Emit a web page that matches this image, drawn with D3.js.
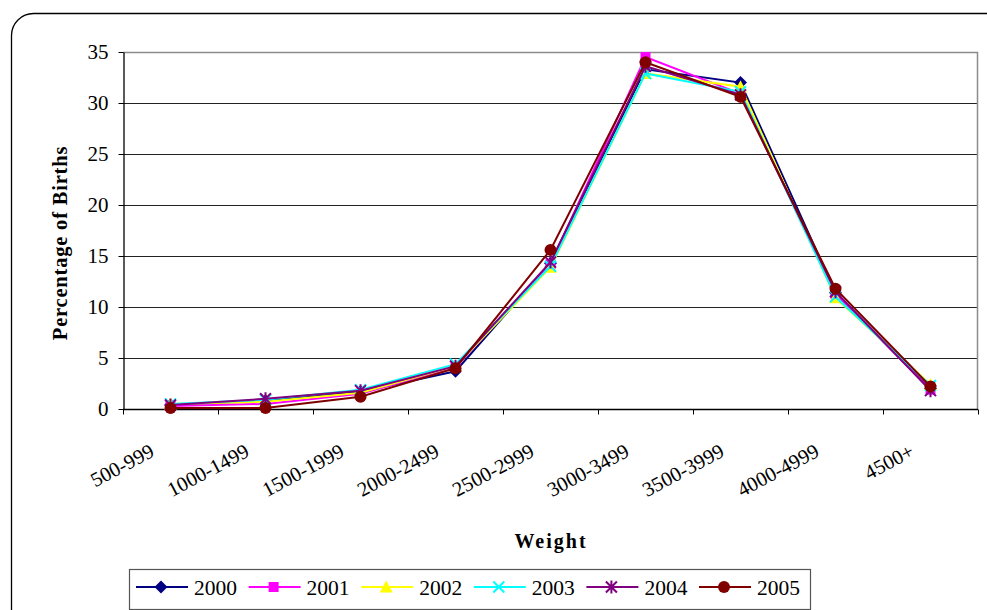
<!DOCTYPE html>
<html>
<head>
<meta charset="utf-8">
<script src="https://cdn.jsdelivr.net/npm/d3@7"></script>
<style>
  html, body { margin: 0; padding: 0; background: #fff; }
  svg { display: block; }
  svg text { font-family: "Liberation Serif", "Times New Roman", serif; }
</style>
</head>
<body>
<svg id="chart" width="987" height="610"></svg>
<script>
// Birth weight distribution by year (percentage of births per weight band)
const categories = ["500-999", "1000-1499", "1500-1999", "2000-2499", "2500-2999",
                    "3000-3499", "3500-3999", "4000-4999", "4500+"];
const years = ["2000", "2001", "2002", "2003", "2004", "2005"];
const values2000 = [0.4, 0.8, 1.7, 3.7, 14.3, 33.3, 32.0, 11.4, 2.0];
const values2001 = [0.3, 0.5, 1.5, 4.1, 14.2, 34.5, 30.9, 11.3, 1.9];
const values2002 = [0.5, 0.7, 1.6, 4.2, 13.9, 32.9, 31.6, 10.9, 2.4];
const values2003 = [0.5, 0.9, 1.9, 4.4, 14.0, 32.9, 31.1, 11.0, 2.3];
const values2004 = [0.4, 1.0, 1.8, 4.2, 14.4, 33.6, 30.8, 11.5, 1.8];
const values2005 = [0.1, 0.1, 1.2, 4.0, 15.6, 34.0, 30.6, 11.8, 2.2];
const yTicks = [0, 5, 10, 15, 20, 25, 30, 35];

const seriesValues = [values2000, values2001, values2002, values2003, values2004, values2005];
const colors = ["#000080", "#FF00FF", "#FFFF00", "#00FFFF", "#800080", "#800000"];
const shapes = ["diamond", "square", "triangle", "cross", "asterisk", "circle"];
const FONT = "Liberation Serif, Times New Roman, serif";

const svg = d3.select("#chart");

// Outer rounded frame
svg.append("rect")
  .attr("x", 11.5).attr("y", 13.5)
  .attr("width", 1000).attr("height", 620)
  .attr("rx", 22).attr("ry", 22)
  .attr("fill", "none").attr("stroke", "#000").attr("stroke-width", 1.3);

const plot = { left: 123, right: 978, top: 52, bottom: 409 };

const x = d3.scaleBand().domain(categories).range([plot.left, plot.right]).padding(0);
const y = d3.scaleLinear().domain([0, 35]).range([plot.bottom, plot.top]);
const cx = c => x(c) + x.bandwidth() / 2;

// Horizontal gridlines
svg.append("g")
  .selectAll("line")
  .data(yTicks.filter(t => t > 0 && t < 35))
  .join("line")
  .attr("x1", plot.left).attr("x2", plot.right)
  .attr("y1", d => y(d) + 0.5).attr("y2", d => y(d) + 0.5)
  .attr("stroke", "#222").attr("stroke-width", 1);

// Plot area border (top and right)
svg.append("path")
  .attr("d", `M${plot.left},${plot.top + 0.5}H${plot.right - 0.5}V${plot.bottom}`)
  .attr("fill", "none").attr("stroke", "#8c8c8c").attr("stroke-width", 1.5);

// Y axis
const yAxis = d3.axisLeft(y).tickValues(yTicks).tickSize(5).tickPadding(10).tickSizeOuter(0);
const gy = svg.append("g").attr("transform", `translate(${plot.left + 0.5},0)`).call(yAxis);
gy.attr("font-family", FONT).attr("font-size", 21);
gy.select(".domain").attr("stroke", "#000").attr("stroke-width", 1.3);
gy.selectAll(".tick line").attr("stroke", "#000");
gy.selectAll(".tick text")
  .attr("font-family", FONT).attr("font-size", 21).attr("fill", "#000");

// X axis: ticks at band boundaries
const gx = svg.append("g").attr("transform", `translate(0,${plot.bottom + 0.5})`);
gx.append("line")
  .attr("x1", plot.left).attr("x2", plot.right)
  .attr("stroke", "#000").attr("stroke-width", 1.3);
const boundaries = categories.map(c => x(c)).concat([plot.right]);
gx.selectAll("line.tk")
  .data(boundaries)
  .join("line").attr("class", "tk")
  .attr("x1", d => d + 0.5).attr("x2", d => d + 0.5)
  .attr("y1", 0).attr("y2", 5)
  .attr("stroke", "#000");
gx.selectAll("text")
  .data(categories)
  .join("text")
  .attr("transform", d => `translate(${cx(d) - 15},${46}) rotate(-28)`)
  .attr("text-anchor", "end")
  .attr("font-family", FONT)
  .attr("font-size", 20.5)
  .attr("fill", "#000")
  .text(d => d);

// Axis titles
svg.append("text")
  .attr("x", 551).attr("y", 548)
  .attr("text-anchor", "middle")
  .attr("font-family", FONT)
  .attr("font-size", 20).attr("font-weight", "bold")
  .attr("letter-spacing", 2)
  .text("Weight");

svg.append("text")
  .attr("transform", `translate(67,243) rotate(-90)`)
  .attr("text-anchor", "middle")
  .attr("font-family", FONT)
  .attr("font-size", 20.5).attr("font-weight", "bold")
  .attr("letter-spacing", 0.8)
  .text("Percentage of Births");

// Marker drawing
function drawMarker(g, shape, color) {
  switch (shape) {
    case "diamond":
      g.append("path").attr("d", "M0,-6.5L6.5,0L0,6.5L-6.5,0Z").attr("fill", color);
      break;
    case "square":
      g.append("rect").attr("x", -5).attr("y", -5).attr("width", 10).attr("height", 10).attr("fill", color);
      break;
    case "triangle":
      g.append("path").attr("d", "M0,-6.5L6.5,5.5L-6.5,5.5Z").attr("fill", color);
      break;
    case "cross":
      g.append("path").attr("d", "M-5.5,-5.5L5.5,5.5M-5.5,5.5L5.5,-5.5").attr("stroke", color).attr("stroke-width", 2);
      break;
    case "asterisk":
      g.append("path").attr("d", "M-5.5,-5.5L5.5,5.5M-5.5,5.5L5.5,-5.5M0,-6.5V6.5").attr("stroke", color).attr("stroke-width", 2);
      break;
    case "circle":
      g.append("circle").attr("r", 6).attr("fill", color);
      break;
  }
}

const line = d3.line().x((d, i) => cx(categories[i])).y(d => y(d));

seriesValues.forEach((vals, si) => {
  const g = svg.append("g");
  g.append("path")
    .attr("d", line(vals))
    .attr("fill", "none")
    .attr("stroke", colors[si])
    .attr("stroke-width", 2);
  vals.forEach((v, i) => {
    const m = g.append("g").attr("transform", `translate(${cx(categories[i])},${y(v)})`);
    drawMarker(m, shapes[si], colors[si]);
  });
});

// Legend
const legend = svg.append("g");
legend.append("rect")
  .attr("x", 129.5).attr("y", 569.5).attr("width", 681).attr("height", 40)
  .attr("fill", "#fff").attr("stroke", "#555").attr("stroke-width", 1.2);
years.forEach((yr, i) => {
  const x0 = 136 + i * 112.6;
  const li = legend.append("g").attr("transform", `translate(${x0},587)`);
  li.append("line").attr("x1", 0).attr("x2", 52).attr("stroke", colors[i]).attr("stroke-width", 2);
  const m = li.append("g").attr("transform", "translate(25,0)");
  drawMarker(m, shapes[i], colors[i]);
  li.append("text").attr("x", 58).attr("y", 7.5)
    .attr("font-family", FONT)
    .attr("font-size", 21.5).attr("fill", "#000").text(yr);
});
</script>
</body>
</html>
